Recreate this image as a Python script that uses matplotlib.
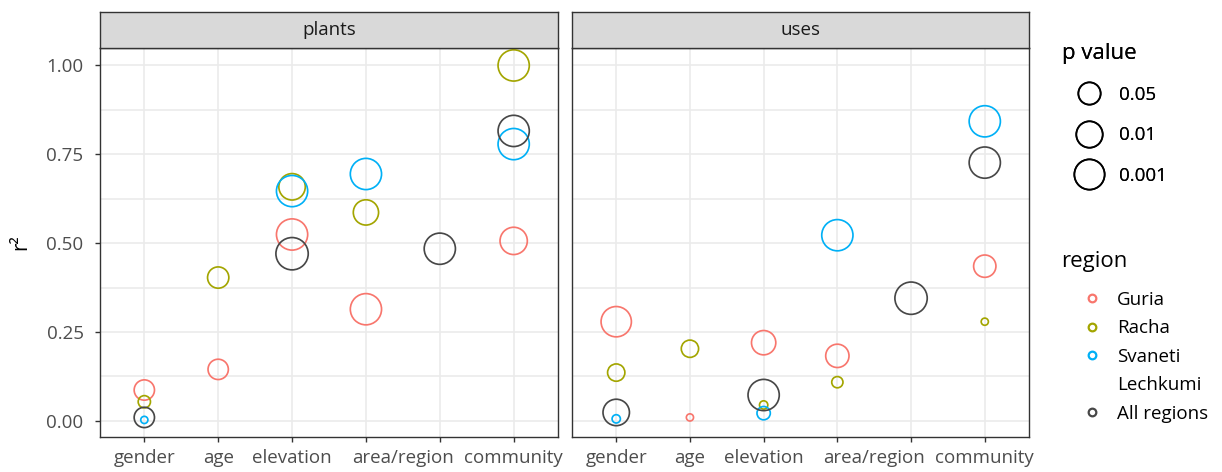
import matplotlib.pyplot as plt
import numpy as np
from matplotlib.lines import Line2D

plt.rcParams['font.family'] = ['Open Sans', 'DejaVu Sans']

# Datos
factores = ["gender", "age", "elevation", "area", "region", "community"]
etiquetas_x = ["gender", "age", "elevation", "", "", "community"]
etiqueta_area = "area/region"   # rotulo compartido entre area y region
paneles = ["plants", "uses"]
regiones = ["Guria", "Racha", "Svaneti", "Lechkumi", "All regions"]
colores = ["#F8766D", "#A3A500", "#00B0F6", "#474747"]
nan = np.nan

# plants: r2 y p por region (nan = sin dato)
plants_guria_r2 = [0.087, 0.145, 0.524, 0.314, nan, 0.506]
plants_guria_p = [0.088, 0.088, 0.0005, 0.0005, nan, 0.0065]
plants_racha_r2 = [0.054, 0.403, 0.658, 0.586, nan, 0.999]
plants_racha_p = [0.35, 0.068, 0.01, 0.017, nan, 0.0005]
plants_svaneti_r2 = [0.003, nan, 0.646, 0.694, nan, 0.778]
plants_svaneti_p = [0.54, nan, 0.0005, 0.0005, nan, 0.0005]
plants_all_r2 = [0.010, nan, 0.470, nan, 0.484, 0.815]
plants_all_p = [0.088, nan, 0.0002, nan, 0.0005, 0.0005]

# uses
uses_guria_r2 = [0.279, 0.010, 0.220, 0.183, nan, 0.435]
uses_guria_p = [0.001, 0.54, 0.025, 0.036, nan, 0.05]
uses_racha_r2 = [0.136, 0.203, 0.045, 0.109, nan, 0.279]
uses_racha_p = [0.17, 0.17, 0.50, 0.39, nan, 0.54]
uses_svaneti_r2 = [0.006, nan, 0.022, 0.522, nan, 0.842]
uses_svaneti_p = [0.50, nan, 0.31, 0.0005, nan, 0.0005]
uses_all_r2 = [0.024, nan, 0.073, nan, 0.345, 0.726]
uses_all_p = [0.01, nan, 0.0005, nan, 0.0002, 0.0005]

p_leyenda = [0.05, 0.01, 0.001]

datos = {
    "plants": [(plants_guria_r2, plants_guria_p), (plants_racha_r2, plants_racha_p),
               (plants_svaneti_r2, plants_svaneti_p), (plants_all_r2, plants_all_p)],
    "uses": [(uses_guria_r2, uses_guria_p), (uses_racha_r2, uses_racha_p),
             (uses_svaneti_r2, uses_svaneti_p), (uses_all_r2, uses_all_p)],
}

DPI = 100
lw_px = 1.7
fs = 13.5


def diametro_pt(p):
    # diametro del circulo segun -log10(p)
    p = np.asarray(p, dtype=float)
    d_px = 21.5 + 9.57 * np.log(-np.log10(p))
    return (d_px - lw_px) * 72 / DPI


fig = plt.figure(figsize=(12.22, 4.72), dpi=DPI)
W, H = 1222, 472

ejes_x = [(100, 558), (572, 1029)]
y_abajo, y_arriba, strip_arriba = 437, 48, 12

x = np.arange(len(factores))
for i, panel in enumerate(paneles):
    x0, x1 = ejes_x[i]
    ax = fig.add_axes([x0 / W, (H - y_abajo) / H, (x1 - x0) / W, (y_abajo - y_arriba) / H])
    ax.set_xlim(-0.6, 5.6)
    ax.set_ylim(-0.045, 1.048)
    ax.set_yticks([0, 0.25, 0.5, 0.75, 1.0])
    ax.set_yticks([0.125, 0.375, 0.625, 0.875], minor=True)
    ax.set_xticks(x)
    ax.set_xticklabels(etiquetas_x)
    ax.set_xticks([3.5], minor=True)
    ax.set_xticklabels([etiqueta_area], minor=True)
    ax.tick_params(axis="both", which="major", length=3.8, width=1, color="#333333",
                   labelsize=fs, labelcolor="#4D4D4D")
    ax.tick_params(axis="x", which="major", pad=5)
    ax.tick_params(axis="x", which="minor", length=0, pad=8.8, labelsize=fs, labelcolor="#4D4D4D")
    ax.tick_params(axis="y", which="major", pad=8)
    ax.tick_params(axis="y", which="minor", length=0)
    ax.grid(axis="y", which="both", color="#EBEBEB", linewidth=1.2)
    ax.grid(axis="x", which="major", color="#EBEBEB", linewidth=1.2)
    ax.set_axisbelow(True)
    for s in ax.spines.values():
        s.set_color("#333333")
        s.set_linewidth(1.0)
    if i == 0:
        ax.set_yticklabels(["0.00", "0.25", "0.50", "0.75", "1.00"])
        ax.set_ylabel("r²", fontsize=15, labelpad=11)
    else:
        ax.set_yticklabels([])
        ax.tick_params(axis="y", which="major", length=0)

    for (r2, p), color in zip(datos[panel], colores):
        r2 = np.array(r2)
        p = np.array(p)
        ok = ~np.isnan(r2)
        ax.scatter(x[ok], r2[ok], s=diametro_pt(p[ok]) ** 2, facecolors="none",
                   edgecolors=color, linewidths=lw_px * 72 / DPI, zorder=3)

    # franja del titulo del panel
    sx = fig.add_axes([x0 / W, (H - y_arriba) / H, (x1 - x0) / W, (y_arriba - strip_arriba) / H])
    sx.set_facecolor("#D9D9D9")
    sx.set_xticks([])
    sx.set_yticks([])
    for s in sx.spines.values():
        s.set_color("#333333")
        s.set_linewidth(1.0)
    sx.text(0.5, 0.5, panel, ha="center", va="center", fontsize=fs, color="#1A1A1A",
            transform=sx.transAxes)

# leyenda p value
h_p = [Line2D([], [], linestyle="none", marker="o", markersize=diametro_pt(v),
              markerfacecolor="none", markeredgecolor="black", markeredgewidth=lw_px * 72 / DPI)
       for v in p_leyenda]
leg1 = fig.legend(h_p, [str(v) for v in p_leyenda], title="p value", loc="upper left",
                  bbox_to_anchor=(1054 / W, (H - 35) / H), frameon=False, fontsize=fs,
                  title_fontsize=16, labelspacing=1.2, handletextpad=0.15,
                  handlelength=2.9, alignment="left", borderaxespad=0)

# leyenda region ("Svaneti Lechkumi" ocupa dos renglones, el marcador va en el primero)
h_r = [Line2D([], [], linestyle="none", marker="o", markersize=5.5,
              markerfacecolor="none", markeredgecolor=c, markeredgewidth=1.6)
       for c in colores]
h_r.insert(3, Line2D([], [], linestyle="none", marker=None))
leg2 = fig.legend(h_r, regiones, title="region", loc="upper left",
                  bbox_to_anchor=(1054 / W, (H - 243) / H), frameon=False, fontsize=fs,
                  title_fontsize=16, labelspacing=0.56, handletextpad=-0.25,
                  handlelength=3.2, alignment="left", borderaxespad=0)
leg2._legend_box.sep = 14
fig.add_artist(leg1)

fig.savefig("out.png", dpi=DPI)
